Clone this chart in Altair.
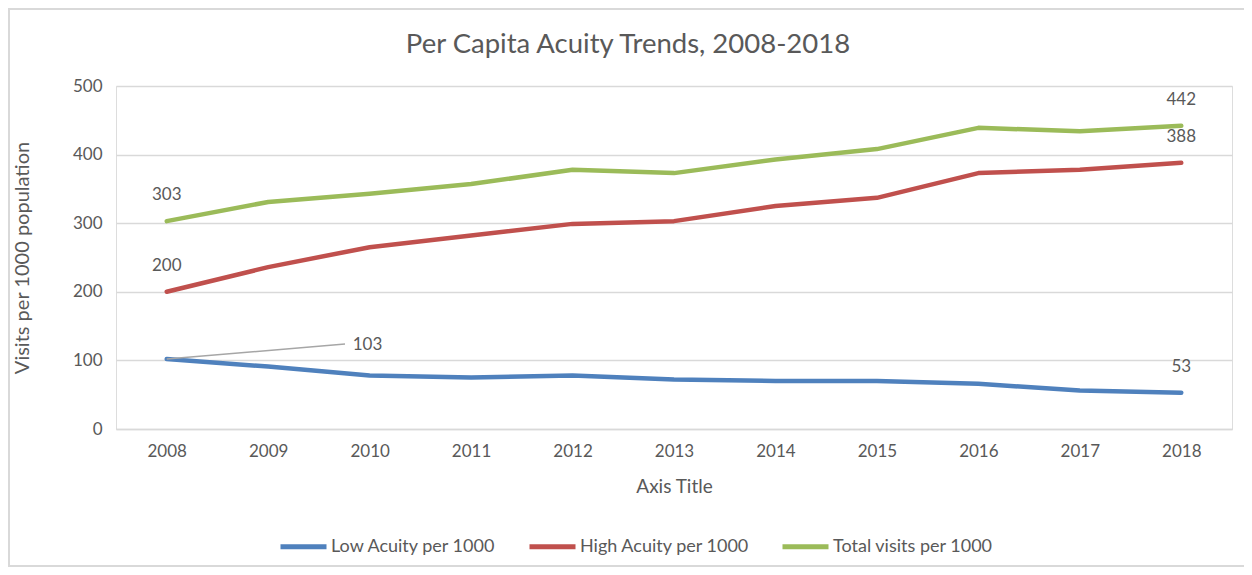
import altair as alt
import pandas as pd

years = [2008, 2009, 2010, 2011, 2012, 2013, 2014, 2015, 2016, 2017, 2018]
low_acuity = [102, 91, 78, 75, 78, 72, 70, 70, 66, 56, 53]
high_acuity = [200, 236, 265, 282, 299, 303, 325, 337, 373, 378, 388]
total_visits = [303, 331, 343, 357, 378, 373, 393, 408, 439, 434, 442]
series_names = ["Low Acuity per 1000", "High Acuity per 1000", "Total visits per 1000"]
series_colors = ["#4F81BD", "#C0504D", "#9BBB59"]

# data labels shown on the chart (series, year, text)
label_series = ["High Acuity per 1000", "Total visits per 1000", "High Acuity per 1000",
                "Total visits per 1000", "Low Acuity per 1000"]
label_years = [2008, 2008, 2018, 2018, 2018]
label_texts = ["200", "303", "388", "442", "53"]
leader_year = 2008
leader_text = "103"

rows = []
for name, vals in zip(series_names, [low_acuity, high_acuity, total_visits]):
    for y, v in zip(years, vals):
        rows.append({"year": str(y), "value": v, "series": name})
df = pd.DataFrame(rows)

lookup = {(r["series"], r["year"]): r["value"] for r in rows}
lab_df = pd.DataFrame({
    "year": [str(y) for y in label_years],
    "series": label_series,
    "text": label_texts,
    "value": [lookup[(s, str(y))] for s, y in zip(label_series, label_years)],
})
lead_df = pd.DataFrame({
    "year": [str(leader_year)],
    "value": [lookup[("Low Acuity per 1000", str(leader_year))]],
    "text": [leader_text],
})

W, H = 1116, 343
FONT = "Lato"
TXT = "#595959"

x_enc = alt.X("year:O", title="Axis Title",
              scale=alt.Scale(type="point", padding=0.5),
              axis=alt.Axis(labelAngle=0, labelFontSize=17, labelColor=TXT, labelFont=FONT,
                            titleFontSize=19, titleColor=TXT, titleFont=FONT, titleFontWeight="normal",
                            ticks=False, domain=True, domainColor="#D9D9D9", domainWidth=1.5,
                            labelPadding=14, titlePadding=18, grid=False))
y_enc = alt.Y("value:Q", title="Visits per 1000 population",
              scale=alt.Scale(domain=[0, 500], nice=False),
              axis=alt.Axis(values=[0, 100, 200, 300, 400, 500], labelFontSize=17, labelColor=TXT,
                            labelFont=FONT, titleFontSize=20, titleColor=TXT, titleFont=FONT,
                            titleFontWeight="normal", ticks=False, domain=False,
                            grid=True, gridColor="#D9D9D9", gridWidth=1.5,
                            labelPadding=14, titlePadding=40))

border = alt.Chart(pd.DataFrame({"a": [0]})).mark_rect(
    fill="transparent", stroke="#D9D9D9", strokeWidth=2, clip=False
).encode(x=alt.value(-107), x2=alt.value(W + 200), y=alt.value(-77), y2=alt.value(H + 137))

lines = alt.Chart(df).mark_line(strokeWidth=4.5, strokeCap="round", strokeJoin="round").encode(
    x=x_enc,
    y=y_enc,
    color=alt.Color("series:N", sort=series_names,
                    scale=alt.Scale(domain=series_names, range=series_colors),
                    legend=alt.Legend(title=None, orient="none", direction="horizontal",
                                      legendX=162, legendY=435,
                                      symbolType="stroke", symbolSize=2116, symbolStrokeWidth=5,
                                      labelFontSize=18, labelColor=TXT, labelFont=FONT,
                                      labelLimit=0, labelOffset=2, columnPadding=22)),
)

labels = alt.Chart(lab_df).mark_text(fontSize=17, font=FONT, color=TXT, dy=-26).encode(
    x=alt.X("year:O"), y=alt.Y("value:Q"), text="text:N"
)

leader = alt.Chart(lead_df).mark_rule(color="#A6A6A6", strokeWidth=1.5).encode(
    x=alt.X("year:O"), y=alt.Y("value:Q"), x2=alt.value(229), y2=alt.value(258)
)
leader_label = alt.Chart(lead_df).mark_text(fontSize=17, font=FONT, color=TXT, align="left",
                                            dx=186, dy=-14).encode(
    x=alt.X("year:O"), y=alt.Y("value:Q"), text="text:N"
)

chart = alt.layer(border, lines, leader, labels, leader_label).properties(
    width=W, height=H,
    title=alt.TitleParams("Per Capita Acuity Trends, 2008-2018", fontSize=27.5, font=FONT,
                          color=TXT, fontWeight="normal", anchor="middle", offset=0,
                          dx=-46, dy=50),
    autosize=alt.AutoSizeParams(type="none"),
    padding={"left": 108, "top": 78, "right": 12, "bottom": 138},
).configure_view(stroke=None).configure(background="white")

chart.save("out.html", embed_options={"renderer": "svg", "actions": False})
